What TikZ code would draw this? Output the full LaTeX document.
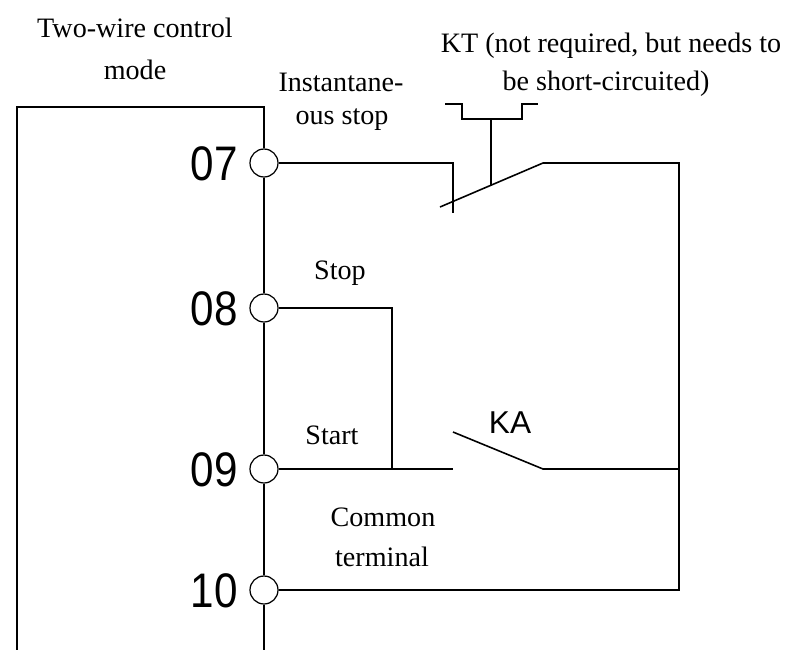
\documentclass[tikz,border=0pt]{standalone}
\usepackage{fontspec}
\setmainfont{Liberation Serif}
\newfontfamily\digitfont{Liberation Sans}
\usetikzlibrary{positioning}

\tikzset{
  term/.style={draw, circle, fill=white, inner sep=0pt, minimum size=0.56cm, line width=0.7pt},
  wire/.style={line width=0.9pt},
  lbl/.style={font=\fontsize{16}{19}\selectfont, inner sep=0pt},
  num/.style={font=\digitfont\fontsize{24}{24}\selectfont, anchor=east, inner sep=0pt},
}

\begin{document}
\begin{tikzpicture}[x=0.02cm, y=-0.02cm]
\useasboundingbox (0,0) rectangle (799,650);
% terminals on the bus
\node[term] (t07) at (264,163){};
\node[term] (t08) at (264,308){};
\node[term] (t09) at (264,469){};
\node[term] (t10) at (264,590){};
\node[num] (n07) at (238,164){\scalebox{1}[1.15]{07}};
\node[num] (n08) at (238,309){\scalebox{1}[1.15]{08}};
\node[num] (n09) at (238,470){\scalebox{1}[1.15]{09}};
\node[num] (n10) at (238,591){\scalebox{1}[1.15]{10}};

% box and bus
\coordinate (boxtl) at (17,107);
\coordinate (boxtr) at (264,107);
\coordinate (boxbl) at (17,650);
\coordinate (busbot) at (264,650);
\draw[wire] (boxbl) -- (boxtl) -- (boxtr) -- (t07.north);
\draw[wire] (t07.south) -- (t08.north);
\draw[wire] (t08.south) -- (t09.north);
\draw[wire] (t09.south) -- (t10.north);
\draw[wire] (t10.south) -- (busbot);

% KT contact
\coordinate (ktin) at (453,163);
\coordinate (ktstub) at (453,213);
\coordinate (ktlo) at (440,207);
\coordinate (kthi) at (543,163);
\coordinate (ktact) at (491,185.2);
\coordinate (rtop) at (679,163);
\coordinate (rbot) at (679,590);
\draw[wire] (t07.east) -- (ktin) -- (ktstub);
\draw[wire] (ktlo) -- (kthi) -- (rtop) -- (rbot) -- (t10.east);
\draw[wire] (ktact) -- (491,119);
\draw[wire] (445,104) -- (462,104) -- (462,119) -- (522,119) -- (522,104) -- (538,104);

% stop / start
\coordinate (stopr) at (392,308);
\coordinate (stopd) at (392,469);
\draw[wire] (t08.east) -- (stopr) -- (stopd);
\coordinate (kalo) at (453,469);
\coordinate (kaup) at (453,432);
\coordinate (kahi) at (543,469);
\coordinate (kar) at (679,469);
\draw[wire] (t09.east) -- (kalo);
\draw[wire] (kaup) -- (kahi) -- (kar);

% texts
\node[lbl] (mode1) at (135,28){Two-wire control};
\node[lbl] (mode2) at (135,70){mode};
\node[lbl] (inst1) at (341,82){Instantane-};
\node[lbl] (inst2) at (342,120){ous stop};
\node[lbl] (kt1) at (611,46){KT (not required, but needs to};
\node[lbl] (kt2) at (606,84){be short-circuited)};
\node[lbl] (stop) at (340,273){Stop};
\node[lbl] (start) at (332,435){Start};
\node[font=\digitfont\fontsize{18}{18}\selectfont, inner sep=0pt] (ka) at (510,423){KA};
\node[lbl] (com1) at (383,517){Common};
\node[lbl] (com2) at (382,557){terminal};
\end{tikzpicture}
\end{document}
